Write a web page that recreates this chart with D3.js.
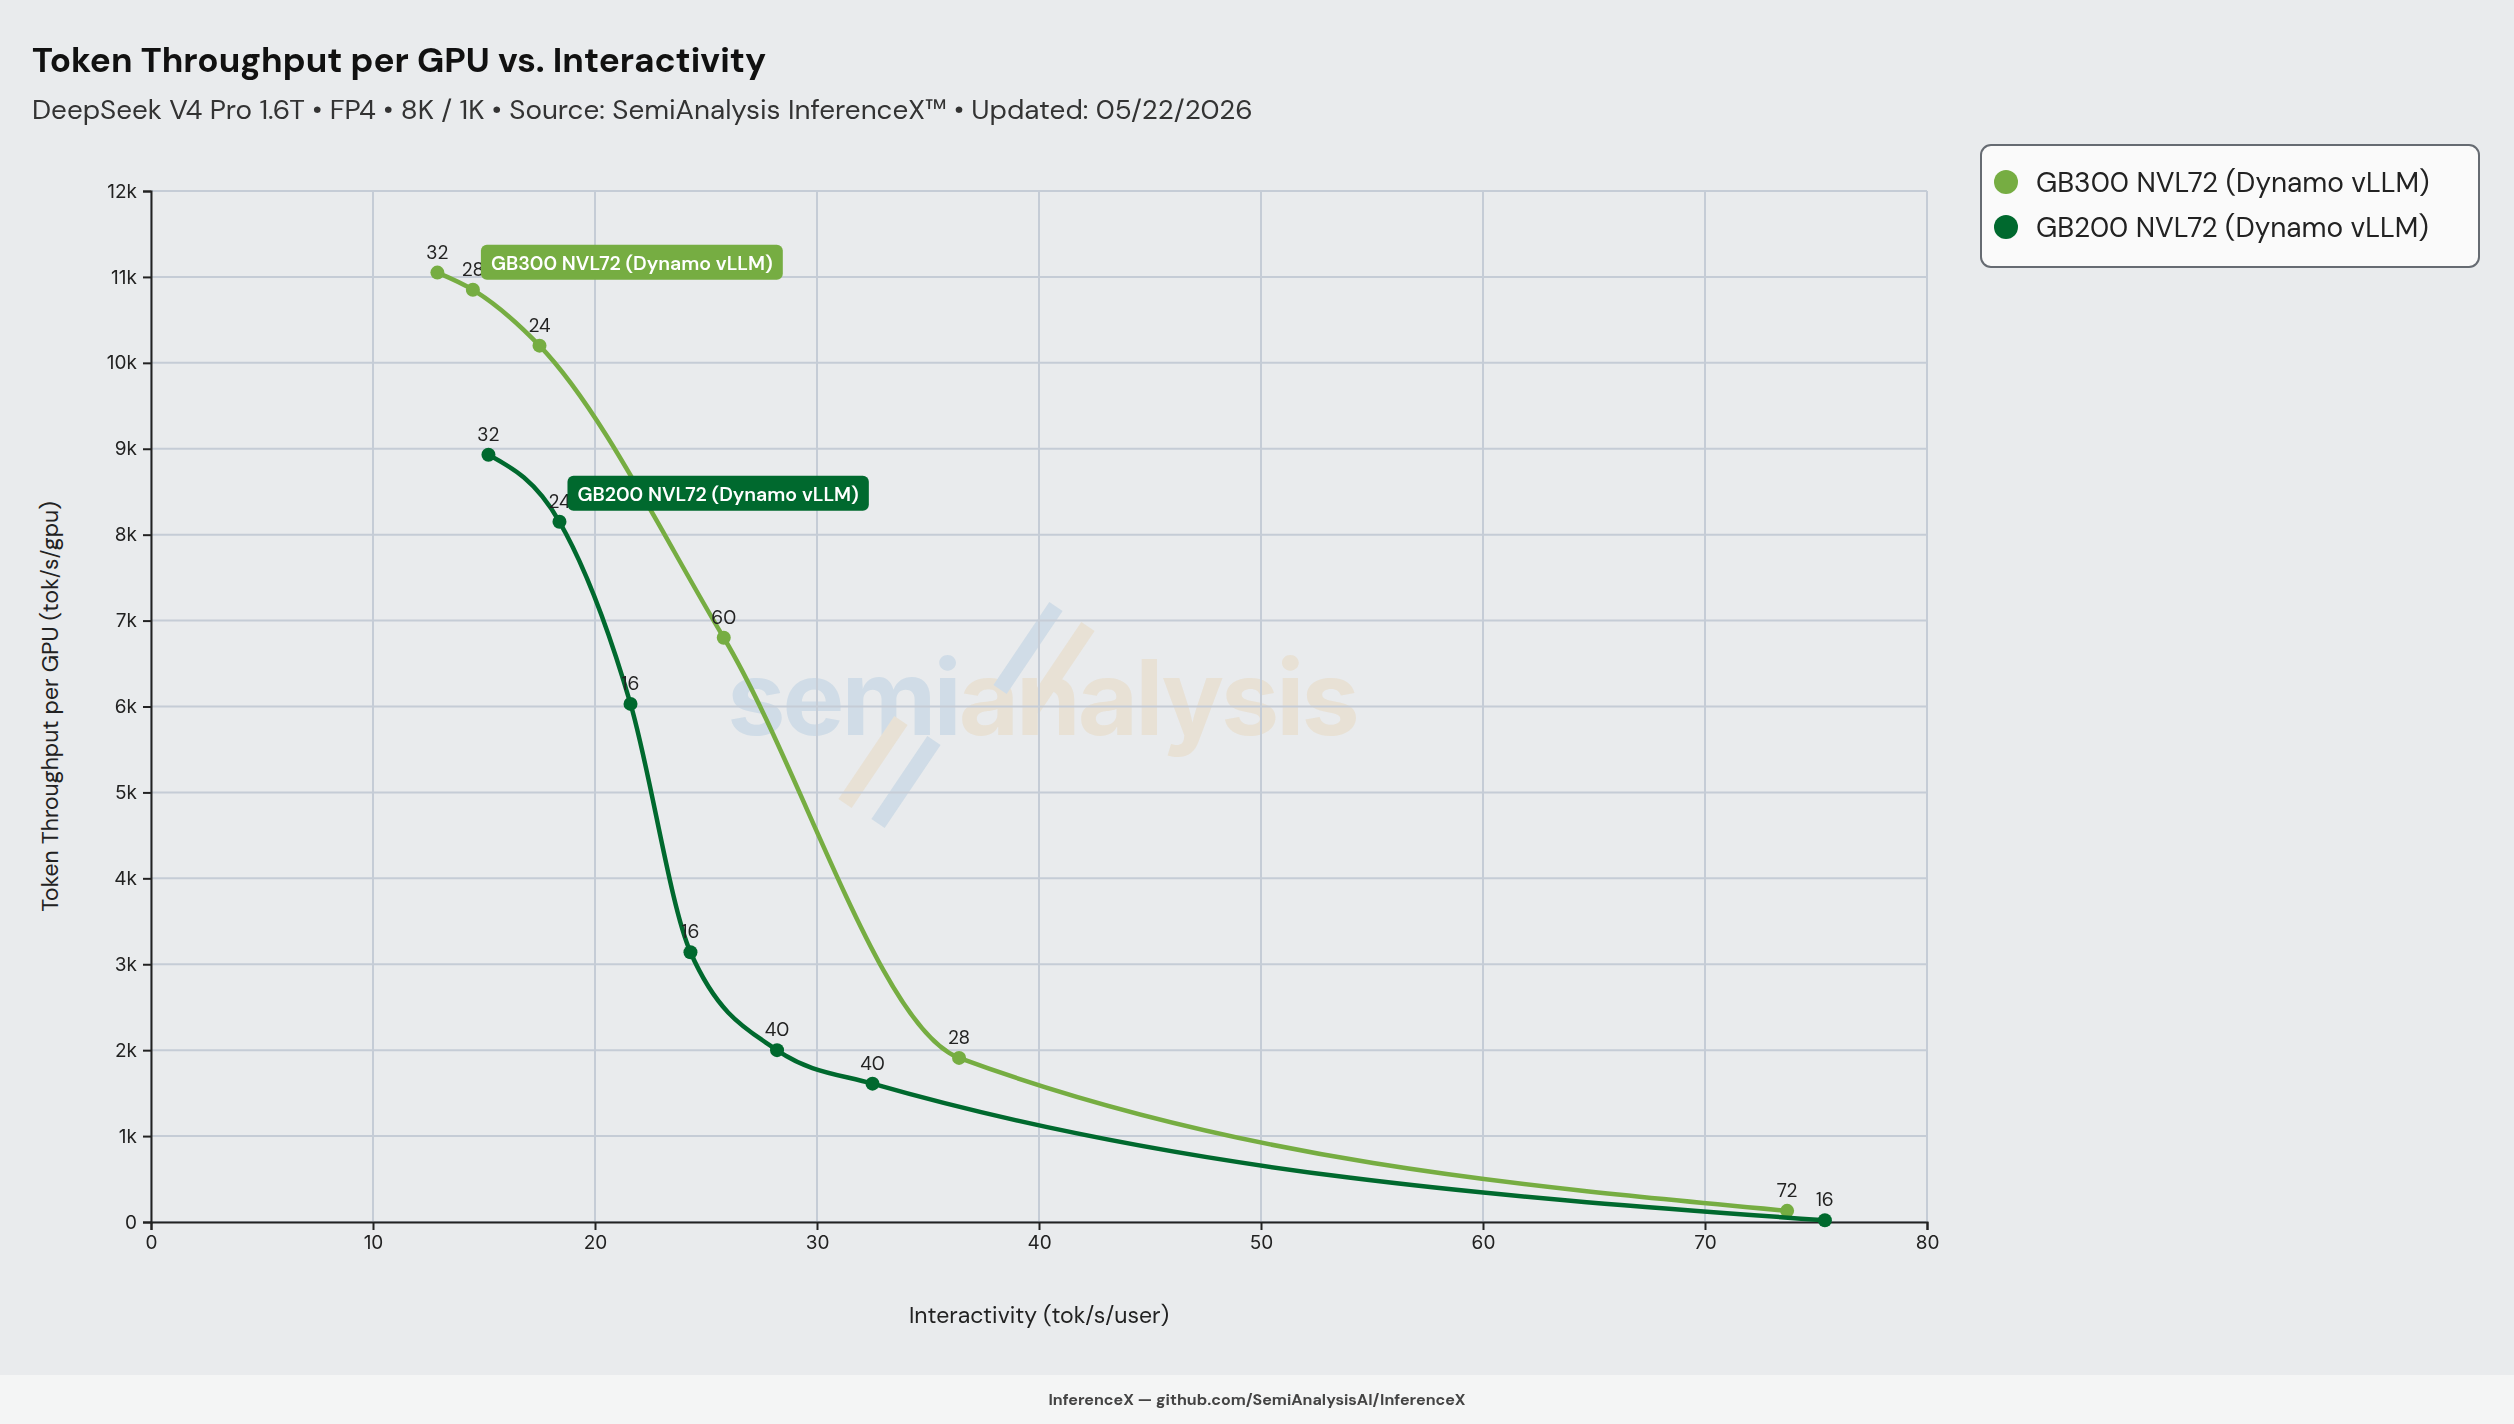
<!DOCTYPE html>
<html><head><meta charset="utf-8">
<script src="https://cdn.jsdelivr.net/npm/d3@7"></script>
<style>body{margin:0;background:#e9ebed;font-family:"DM Sans",Inter,"Noto Sans",sans-serif}</style>
</head><body><svg id="c" width="2514" height="1424"></svg>
<script>
const gb300X=[12.9,14.5,17.5,25.8,36.4,73.7];
const gb300Y=[11050,10850,10200,6800,1910,130];
const gb300L=["32","28","24","60","28","72"];
const gb200X=[15.2,18.4,21.6,24.3,28.2,32.5,75.4];
const gb200Y=[8930,8150,6030,3140,2000,1610,20];
const gb200L=["32","24","16","16","40","40","16"];
const yTicks=[0,1000,2000,3000,4000,5000,6000,7000,8000,9000,10000,11000,12000];
const xTicks=[0,10,20,30,40,50,60,70,80];
const seriesNames=["GB300 NVL72 (Dynamo vLLM)","GB200 NVL72 (Dynamo vLLM)"];
const colors=["#76ad42","#00692e"];

const svg=d3.select("#c");
svg.append("rect").attr("width",2514).attr("height",1424).attr("fill","#e9ebed");
const L=151,R=1927,T=191,B=1222;
const x=d3.scaleLinear().domain([0,80]).range([L,R]);
const y=d3.scaleLinear().domain([0,12000]).range([B,T]);

// watermark
const wm=svg.append("g").attr("opacity",0.13);
const wt=wm.append("text").attr("x",1042).attr("y",735).attr("text-anchor","middle").attr("font-size",104).attr("font-weight",700).attr("font-family","Inter,sans-serif").attr("letter-spacing",-3);
wt.append("tspan").text("semi").attr("fill","#2f7fc1");
wt.append("tspan").text("analysis").attr("fill","#e6a33a");
[[1028,648,"#2f7fc1"],[1060,668,"#e6a33a"],[873,762,"#e6a33a"],[906,782,"#2f7fc1"]].forEach(([cx,cy,c])=>{
  wm.append("rect").attr("x",cx-8).attr("y",cy-50).attr("width",16).attr("height",100).attr("fill",c).attr("transform",`rotate(34,${cx},${cy})`);
});

// grid
svg.append("g").selectAll("line").data(yTicks).join("line").attr("x1",L).attr("x2",R).attr("y1",d=>y(d)).attr("y2",d=>y(d)).attr("stroke","#c5ccd6").attr("stroke-width",2);
svg.append("g").selectAll("line").data(xTicks).join("line").attr("y1",T).attr("y2",B).attr("x1",d=>x(d)).attr("x2",d=>x(d)).attr("stroke","#c5ccd6").attr("stroke-width",2);

const fmtY=d=>d===0?"0":(d/1000)+"k";
const ya=svg.append("g").attr("transform",`translate(${L},0)`).call(d3.axisLeft(y).tickValues(yTicks).tickFormat(fmtY).tickSize(8).tickPadding(6));
const xa=svg.append("g").attr("transform",`translate(0,${B})`).call(d3.axisBottom(x).tickValues(xTicks).tickSize(8).tickPadding(6));
[ya,xa].forEach(a=>{a.selectAll("text").attr("font-size",19).attr("fill","#222").attr("font-family","Inter,sans-serif");a.selectAll("path,line").attr("stroke","#222").attr("stroke-width",2);});

svg.append("text").attr("transform",`translate(58,${(T+B)/2}) rotate(-90)`).attr("text-anchor","middle").attr("font-size",23).attr("fill","#222").text("Token Throughput per GPU (tok/s/gpu)");
svg.append("text").attr("x",(L+R)/2).attr("y",1323).attr("text-anchor","middle").attr("font-size",23).attr("fill","#222").text("Interactivity (tok/s/user)");

svg.append("text").attr("x",32).attr("y",72).attr("font-size",35).attr("font-weight",700).attr("fill","#111").text("Token Throughput per GPU vs. Interactivity");
svg.append("text").attr("x",32).attr("y",119).attr("font-size",27.8).attr("fill","#333").text("DeepSeek V4 Pro 1.6T • FP4 • 8K / 1K • Source: SemiAnalysis InferenceX™ • Updated: 05/22/2026");

const series=[[gb300X,gb300Y,gb300L],[gb200X,gb200Y,gb200L]];
const line=d3.line().x(d=>x(d[0])).y(d=>y(d[1])).curve(d3.curveMonotoneX);
series.forEach(([xs,ys,ls],i)=>{
  const pts=xs.map((v,j)=>[v,ys[j],ls[j]]);
  svg.append("path").datum(pts).attr("d",line).attr("fill","none").attr("stroke",colors[i]).attr("stroke-width",4.5);
  svg.append("g").selectAll("circle").data(pts).join("circle").attr("cx",d=>x(d[0])).attr("cy",d=>y(d[1])).attr("r",7).attr("fill",colors[i]);
  svg.append("g").selectAll("text").data(pts).join("text").attr("x",d=>x(d[0])).attr("y",d=>y(d[1])-14).attr("text-anchor","middle").attr("font-size",19).attr("fill","#222").text(d=>d[2]);
  const p=pts[1];
  const bx=x(p[0])+8, by=y(p[1])+(i===0?-45:-46);
  const g=svg.append("g");
  const t=g.append("text").attr("x",bx+10).attr("y",by+25).attr("font-size",19.5).attr("font-weight",600).attr("fill","#fff").text(seriesNames[i]);
  const w=t.node().getComputedTextLength()+20;
  g.insert("rect","text").attr("x",bx).attr("y",by).attr("width",w).attr("height",35).attr("rx",6).attr("fill",colors[i]);
});

// legend
const lg=svg.append("g");
lg.append("rect").attr("x",1981).attr("y",145).attr("width",498).attr("height",122).attr("rx",10).attr("fill","#fafafa").attr("stroke","#666b72").attr("stroke-width",2);
seriesNames.forEach((n,i)=>{
  lg.append("circle").attr("cx",2006).attr("cy",182+i*45).attr("r",12).attr("fill",colors[i]);
  lg.append("text").attr("x",2036).attr("y",192+i*45).attr("font-size",28).attr("fill","#222").text(n);
});

// footer
svg.append("rect").attr("x",0).attr("y",1375).attr("width",2514).attr("height",49).attr("fill","#f4f5f5");
svg.append("text").attr("x",1257).attr("y",1405).attr("text-anchor","middle").attr("font-size",16).attr("font-weight",700).attr("fill","#444").text("InferenceX — github.com/SemiAnalysisAI/InferenceX");
</script></body></html>
